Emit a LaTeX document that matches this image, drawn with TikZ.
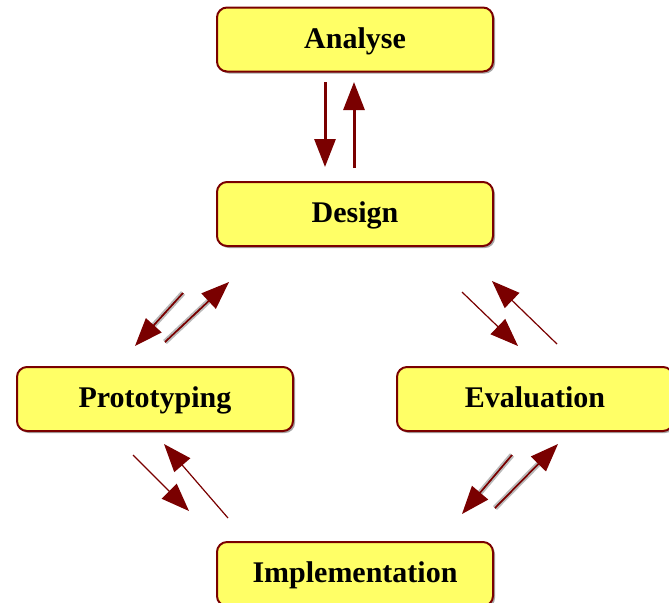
\documentclass[tikz,border=0pt]{standalone}
\usepackage{fontspec}
\setmainfont{Liberation Serif}
\usetikzlibrary{arrows.meta,shadows}
\definecolor{boxfill}{HTML}{FFFF66}
\definecolor{maroonc}{HTML}{7A0000}
\tikzset{
  stagebox/.style={draw=maroonc, line width=1pt, fill=boxfill, rounded corners=5pt,
    minimum width=138pt, minimum height=32pt, inner sep=0pt,
    text height=10pt, text depth=1.5pt,
    font=\fontsize{15}{18}\selectfont\bfseries,
    drop shadow={shadow xshift=1pt, shadow yshift=-1pt, fill=gray!70, opacity=1}},
  headtip/.style={-{Triangle[length=14pt,width=10.5pt]}},
  thickarrow/.style={headtip, maroonc, line width=1.5pt},
  thinarrow/.style={headtip, maroonc, line width=0.6pt},
  dblshaft/.style={draw=gray!55, line width=1pt, double=maroonc, double distance=0.7pt, shorten >=12pt},
  dblcore/.style={headtip, maroonc, line width=0.7pt}
}
\begin{document}
\begin{tikzpicture}[x=0.5pt,y=-0.5pt]
\clip (0,0) rectangle (669,602);
\fill[white] (0,0) rectangle (669,602);
% nodes
\node[stagebox] (ana) at (355,39.5) {Analyse};
\node[stagebox] (des) at (355,214) {Design};
\node[stagebox] (pro) at (155,399) {Prototyping};
\node[stagebox] (eva) at (535,399) {Evaluation};
\node[stagebox] (imp) at (355,574) {Implementation};
% endpoint coordinates
\coordinate (ad1) at (325,82);  \coordinate (ad2) at (325,167);
\coordinate (da1) at (354,168); \coordinate (da2) at (354,82);
\coordinate (dp1) at (183,293); \coordinate (dp2) at (135,346);
\coordinate (pd1) at (165,342); \coordinate (pd2) at (229,282);
\coordinate (de1) at (462,292); \coordinate (de2) at (518,346);
\coordinate (ed1) at (557,344); \coordinate (ed2) at (492,281);
\coordinate (pi1) at (133,455); \coordinate (pi2) at (189,511);
\coordinate (ip1) at (228,518); \coordinate (ip2) at (164,444);
\coordinate (ei1) at (512,455); \coordinate (ei2) at (462,514);
\coordinate (ie1) at (495,508); \coordinate (ie2) at (558,444);
% Analyse <-> Design
\draw[thickarrow] (ad1) -- (ad2);
\draw[thickarrow] (da1) -- (da2);
% Design <-> Prototyping (double shafts)
\draw[dblshaft] (dp1) -- (dp2);
\draw[dblcore] (dp1) -- (dp2);
\draw[dblshaft] (pd1) -- (pd2);
\draw[dblcore] (pd1) -- (pd2);
% Design <-> Evaluation
\draw[thinarrow] (de1) -- (de2);
\draw[thinarrow] (ed1) -- (ed2);
% Prototyping <-> Implementation
\draw[thinarrow] (pi1) -- (pi2);
\draw[thinarrow] (ip1) -- (ip2);
% Evaluation <-> Implementation (double shafts)
\draw[dblshaft] (ei1) -- (ei2);
\draw[dblcore] (ei1) -- (ei2);
\draw[dblshaft] (ie1) -- (ie2);
\draw[dblcore] (ie1) -- (ie2);
\end{tikzpicture}
\end{document}
